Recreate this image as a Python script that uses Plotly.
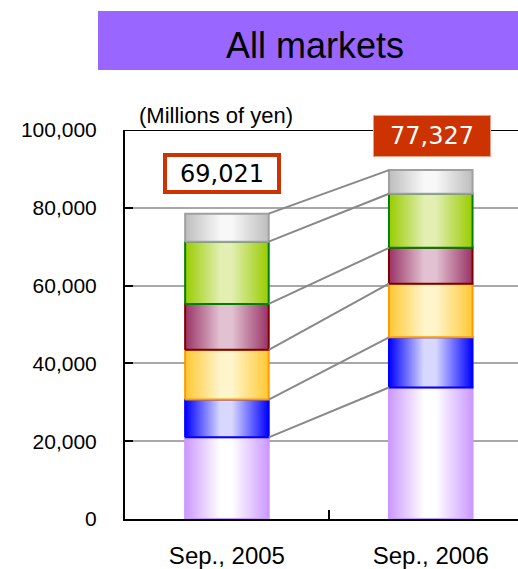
import plotly.graph_objects as go
import numpy as np

# ---- data ----
categories = ["Sep., 2005", "Sep., 2006"]
total_labels = ["69,021", "77,327"]
seg_purple = [21000, 33800]
seg_blue = [9700, 12900]
seg_orange = [12800, 13800]
seg_maroon = [11800, 9200]
seg_green = [16000, 13900]
seg_gray = [7200, 6100]
y_ticks = [0, 20000, 40000, 60000, 80000, 100000]

segments = [seg_purple, seg_blue, seg_orange, seg_maroon, seg_green, seg_gray]
# (edge color, center color, outline color)
styles = [
    ("#cc99ff", "#ffffff", "#cc99ff"),
    ("#0000ff", "#d8d8ff", "#0000ff"),
    ("#ffc833", "#fff5cc", "#ff9900"),
    ("#993366", "#e2c2d2", "#800000"),
    ("#99cc00", "#e2eeb2", "#008000"),
    ("#bdbdbd", "#f8f8f8", "#a0a0a0"),
]

bar_w = 0.41
xs = np.arange(len(categories))
fig = go.Figure()

bottoms = np.zeros(len(categories))
tops_list = []
for seg, (edge, center, outline) in zip(segments, styles):
    vals = np.array(seg, dtype=float)
    tops = bottoms + vals
    for i, xc in enumerate(xs):
        x0, x1 = xc - bar_w / 2, xc + bar_w / 2
        fig.add_trace(go.Scatter(
            x=[x0, x1, x1, x0, x0],
            y=[bottoms[i], bottoms[i], tops[i], tops[i], bottoms[i]],
            mode="lines", fill="toself",
            line=dict(color=outline, width=2),
            fillgradient=dict(type="horizontal",
                              colorscale=[[0, edge], [0.42, center], [0.56, center], [1, edge]]),
            showlegend=False, hoverinfo="skip"))
    tops_list.append(tops.copy())
    bottoms = tops

# connector lines between segment tops
for tops in tops_list:
    fig.add_trace(go.Scatter(
        x=[xs[0] + bar_w / 2, xs[1] - bar_w / 2], y=[tops[0], tops[1]],
        mode="lines", line=dict(color="#888888", width=2),
        showlegend=False, hoverinfo="skip"))

fig.update_layout(
    width=518, height=569,
    margin=dict(l=125, r=0, t=130, b=50),
    plot_bgcolor="white", paper_bgcolor="white",
    font=dict(family="Liberation Sans, Arial, sans-serif", color="black"),
    showlegend=False,
    xaxis=dict(range=[-0.5, 1.428], tickmode="array", tickvals=list(xs), ticktext=categories,
               ticks="", showgrid=False, zeroline=False, showline=True, linecolor="black", linewidth=2,
               tickfont=dict(size=24), ticklabelstandoff=14, automargin=False,
               minor=dict(tickmode="array", tickvals=[0.5], ticks="inside", ticklen=9,
                          tickwidth=2, tickcolor="black")),
    yaxis=dict(range=[0, 100000], tickmode="array", tickvals=y_ticks, tickformat=",d",
               ticks="inside", ticklen=8, tickwidth=2, tickcolor="black",
               showgrid=True, gridcolor="#a8a8a8", gridwidth=2, zeroline=False,
               showline=True, linecolor="black", linewidth=2, automargin=False,
               tickfont=dict(size=21), ticklabelstandoff=22),
)

# top border line
fig.add_shape(type="line", xref="paper", yref="y", x0=0, x1=1, y0=100000, y1=100000,
              line=dict(color="black", width=2), layer="above")

# title box
fig.add_shape(type="rect", xref="paper", yref="paper", x0=-0.0687, x1=1.01, y0=1.154, y1=1.306,
              fillcolor="#9966ff", line=dict(width=0), layer="above")
fig.add_annotation(text="All markets", xref="paper", yref="paper", x=0.4835, y=1.218,
                   xanchor="center", yanchor="middle",
                   showarrow=False, font=dict(size=36, color="black"))

fig.add_annotation(text="(Millions of yen)", xref="paper", yref="paper", x=0.2303, y=1.036,
                   xanchor="center", yanchor="middle",
                   showarrow=False, font=dict(size=22, color="black"))

# total labels
fig.add_annotation(text=total_labels[0], x=xs[0], xshift=-5, xref="x", yref="paper", y=0.887,
                   xanchor="center", yanchor="middle",
                   showarrow=False, font=dict(family="DejaVu Sans", size=24, color="black"),
                   bgcolor="white", bordercolor="#cc3300", borderwidth=4, borderpad=0,
                   width=110, height=33)
fig.add_annotation(text=total_labels[1], x=xs[1], xshift=1, xref="x", yref="paper", y=0.9846,
                   xanchor="center", yanchor="middle",
                   showarrow=False, font=dict(family="DejaVu Sans", size=24, color="white"),
                   bgcolor="#cc3300", bordercolor="#e8a080", borderwidth=1, borderpad=0,
                   width=116, height=40)

fig.write_html("out.html")
